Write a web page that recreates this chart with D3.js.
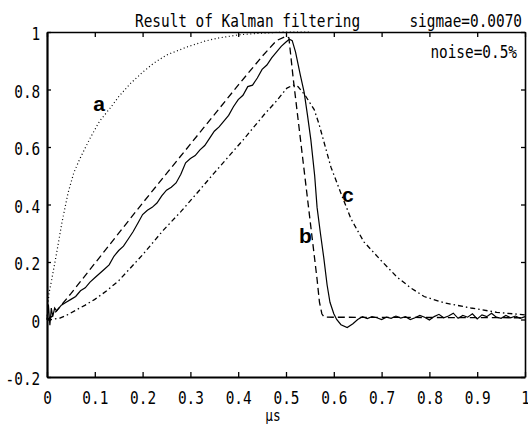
<!DOCTYPE html>
<html>
<head>
<meta charset="utf-8">
<script src="https://cdn.jsdelivr.net/npm/d3@7"></script>
<style>
  body { margin: 0; background: #fff; }
  svg { display: block; }
  .mono { font-family: "DejaVu Sans Mono", monospace; font-size: 18px; fill: #000; }
</style>
</head>
<body>
<svg class="main-svg"></svg>
<script>
// curve a (dotted)
var curveA = [
  [0, 0], [0.004, 0.09], [0.01, 0.14], [0.02, 0.23], [0.031, 0.335], [0.044, 0.44],
  [0.056, 0.51], [0.069, 0.56], [0.09, 0.63], [0.11, 0.69], [0.132, 0.735], [0.15, 0.775],
  [0.174, 0.82], [0.2, 0.86], [0.222, 0.89], [0.25, 0.92], [0.293, 0.948], [0.33, 0.968],
  [0.355, 0.978], [0.4, 0.99], [0.45, 0.996], [0.5, 1.0], [0.55, 1.0]
];

// curve b (dashed)
var curveB = [
  [0, 0], [0.01, 0.01], [0.05, 0.09], [0.1, 0.195], [0.2, 0.405], [0.3, 0.61], [0.4, 0.815],
  [0.45, 0.915], [0.48, 0.97], [0.5, 0.985], [0.506, 0.98], [0.515, 0.84], [0.525, 0.7],
  [0.535, 0.56], [0.545, 0.42], [0.555, 0.28], [0.565, 0.14], [0.57, 0.06], [0.575, 0.02],
  [0.58, 0.008], [1, 0.006]
];

// kalman estimate (solid)
var curveK = [
  [0, 0], [0.003, 0.05], [0.006, -0.02], [0.009, 0.04], [0.012, 0.01], [0.016, 0.04],
  [0.02, 0.03], [0.03, 0.05], [0.04, 0.06], [0.05, 0.07], [0.06, 0.08], [0.07, 0.1],
  [0.08, 0.11], [0.09, 0.13], [0.1, 0.145], [0.11, 0.16], [0.12, 0.175], [0.13, 0.19],
  [0.14, 0.22], [0.15, 0.24], [0.16, 0.255], [0.17, 0.28], [0.18, 0.305], [0.19, 0.335],
  [0.2, 0.365], [0.21, 0.38], [0.22, 0.39], [0.23, 0.405], [0.24, 0.43], [0.25, 0.45],
  [0.26, 0.46], [0.27, 0.475], [0.28, 0.505], [0.29, 0.545], [0.3, 0.56], [0.31, 0.57],
  [0.32, 0.59], [0.33, 0.605], [0.34, 0.63], [0.35, 0.655], [0.36, 0.67], [0.37, 0.69],
  [0.38, 0.71], [0.39, 0.74], [0.4, 0.765], [0.41, 0.78], [0.42, 0.81], [0.43, 0.815],
  [0.44, 0.84], [0.45, 0.87], [0.46, 0.885], [0.47, 0.91], [0.48, 0.93], [0.49, 0.95],
  [0.5, 0.965], [0.507, 0.975], [0.513, 0.97], [0.52, 0.93], [0.53, 0.85], [0.538, 0.79],
  [0.545, 0.71], [0.552, 0.625], [0.56, 0.5], [0.565, 0.39], [0.572, 0.3], [0.579, 0.215],
  [0.586, 0.12], [0.592, 0.06], [0.6, 0.02], [0.606, 0.0], [0.615, -0.018], [0.628, -0.028],
  [0.64, -0.015], [0.65, 0.0], [0.66, 0.01], [0.67, 0.003], [0.68, 0.01], [0.69, 0.006],
  [0.7, 0.0], [0.71, 0.008], [0.72, 0.004], [0.73, 0.012], [0.74, 0.005], [0.75, 0.01],
  [0.76, 0.0], [0.77, 0.006], [0.78, 0.014], [0.79, 0.008], [0.8, -0.002], [0.81, 0.01],
  [0.82, 0.018], [0.83, 0.006], [0.84, 0.012], [0.85, 0.022], [0.86, 0.004], [0.87, 0.014],
  [0.88, 0.008], [0.89, 0.02], [0.9, 0.002], [0.91, 0.016], [0.92, 0.01], [0.93, 0.022],
  [0.94, 0.008], [0.95, 0.004], [0.96, 0.014], [0.97, 0.006], [0.98, 0.012], [0.99, 0.004],
  [1, 0.01]
];

// curve c (dash-dot)
var curveC = [
  [0, 0], [0.01, 0.0], [0.027, 0.005], [0.045, 0.018], [0.063, 0.035], [0.08, 0.05],
  [0.1, 0.07], [0.125, 0.1], [0.15, 0.135], [0.2, 0.225], [0.243, 0.31], [0.28, 0.375],
  [0.314, 0.44], [0.35, 0.51], [0.41, 0.624], [0.454, 0.712], [0.48, 0.76], [0.502, 0.805],
  [0.515, 0.815], [0.525, 0.81], [0.54, 0.78], [0.559, 0.73], [0.569, 0.68], [0.579, 0.62],
  [0.594, 0.53], [0.617, 0.43], [0.636, 0.35], [0.663, 0.27], [0.699, 0.205], [0.732, 0.148],
  [0.761, 0.11], [0.789, 0.08], [0.831, 0.058], [0.887, 0.04], [0.941, 0.025], [1, 0.016]
];

var xTicks = [0, 0.1, 0.2, 0.3, 0.4, 0.5, 0.6, 0.7, 0.8, 0.9, 1],
    xTickLabels = ['0', '0.1', '0.2', '0.3', '0.4', '0.5', '0.6', '0.7', '0.8', '0.9', '1'],
    yTicks = [-0.2, 0, 0.2, 0.4, 0.6, 0.8, 1],
    yTickLabels = ['-0.2', '0', '0.2', '0.4', '0.6', '0.8', '1'];

var width = 528, height = 426,
    plotLeft = 47, plotRight = 525, plotTop = 32, plotBottom = 377,
    squeeze = 'scale(0.8,1)';

var d3 = window.d3;

var svg = d3.select('.main-svg')
      .attr('width', width)
      .attr('height', height);

svg.append('rect').attr('width', width).attr('height', height).attr('fill', '#fff');

var x = d3.scaleLinear().domain([0, 1]).range([plotLeft, plotRight]),
    y = d3.scaleLinear().domain([-0.2, 1]).range([plotBottom, plotTop]);

// axes, ticks pointing inward like the old matlab box
var gx = svg.append('g')
  .attr('transform', 'translate(0,' + plotBottom + ')')
  .call(d3.axisBottom(x).tickValues(xTicks).tickSizeInner(-5).tickSizeOuter(0)
        .tickFormat((d, i) => xTickLabels[i]));
gx.selectAll('text')
  .attr('class', 'mono')
  .attr('y', 27).attr('dy', null)
  .attr('transform', squeeze);

var gy = svg.append('g')
  .attr('transform', 'translate(' + plotLeft + ',0)')
  .call(d3.axisLeft(y).tickValues(yTicks).tickSizeInner(-4).tickSizeOuter(0)
        .tickFormat((d, i) => yTickLabels[i]));
gy.selectAll('text')
  .attr('class', 'mono')
  .attr('x', -8.5).attr('y', 7.5).attr('dy', null)
  .attr('transform', squeeze);

svg.append('g')
  .attr('transform', 'translate(0,' + plotTop + ')')
  .call(d3.axisTop(x).tickValues(xTicks).tickSizeInner(-5).tickSizeOuter(0).tickFormat(''));
svg.append('g')
  .attr('transform', 'translate(' + plotRight + ',0)')
  .call(d3.axisRight(y).tickValues(yTicks).tickSizeInner(-4).tickSizeOuter(0).tickFormat(''));

svg.selectAll('.domain').attr('stroke', '#000').attr('stroke-width', 1.6);
svg.selectAll('.tick line').attr('stroke', '#000').attr('stroke-width', 1.3);
gx.select('.domain').attr('stroke-width', 2.2);
gy.select('.domain').attr('stroke-width', 2.2);

var line = d3.line().x(d => x(d[0])).y(d => y(d[1]));

var curves = [
  { data: curveA, dash: '1,2.6', w: 1.2 },
  { data: curveB, dash: '7,4', w: 1.3 },
  { data: curveK, dash: null, w: 1.2 },
  { data: curveC, dash: '5,3,1.5,3', w: 1.3 }
];

svg.selectAll('path.curve')
  .data(curves)
  .enter()
  .append('path')
  .attr('class', 'curve')
  .attr('d', d => line(d.data))
  .attr('fill', 'none')
  .attr('stroke', '#000')
  .attr('stroke-width', d => d.w)
  .attr('stroke-dasharray', d => d.dash);

// titles
function monoText(str, tx, ty, anchor, size) {
  svg.append('text')
    .attr('class', 'mono')
    .attr('text-anchor', anchor)
    .style('font-size', size + 'px')
    .attr('transform', 'translate(' + tx + ',' + ty + ') ' + squeeze)
    .text(str);
}
monoText('Result of Kalman filtering', 135, 27, 'start', 18);
monoText('sigmae=0.0070', 522, 27, 'end', 18);
monoText('noise=0.5%', 517, 58, 'end', 18);
monoText('\u03bcs', 273, 421, 'middle', 16);

// curve letters
var letters = [['a', 0.097, 0.725], ['b', 0.527, 0.265], ['c', 0.617, 0.408]];
svg.selectAll('text.letter')
  .data(letters)
  .enter()
  .append('text')
  .attr('class', 'letter')
  .attr('x', d => x(d[1]))
  .attr('y', d => y(d[2]))
  .style('font-family', '"Liberation Sans", Arial, sans-serif')
  .style('font-weight', 'bold')
  .style('font-size', '21px')
  .text(d => d[0]);
</script>
</body>
</html>
